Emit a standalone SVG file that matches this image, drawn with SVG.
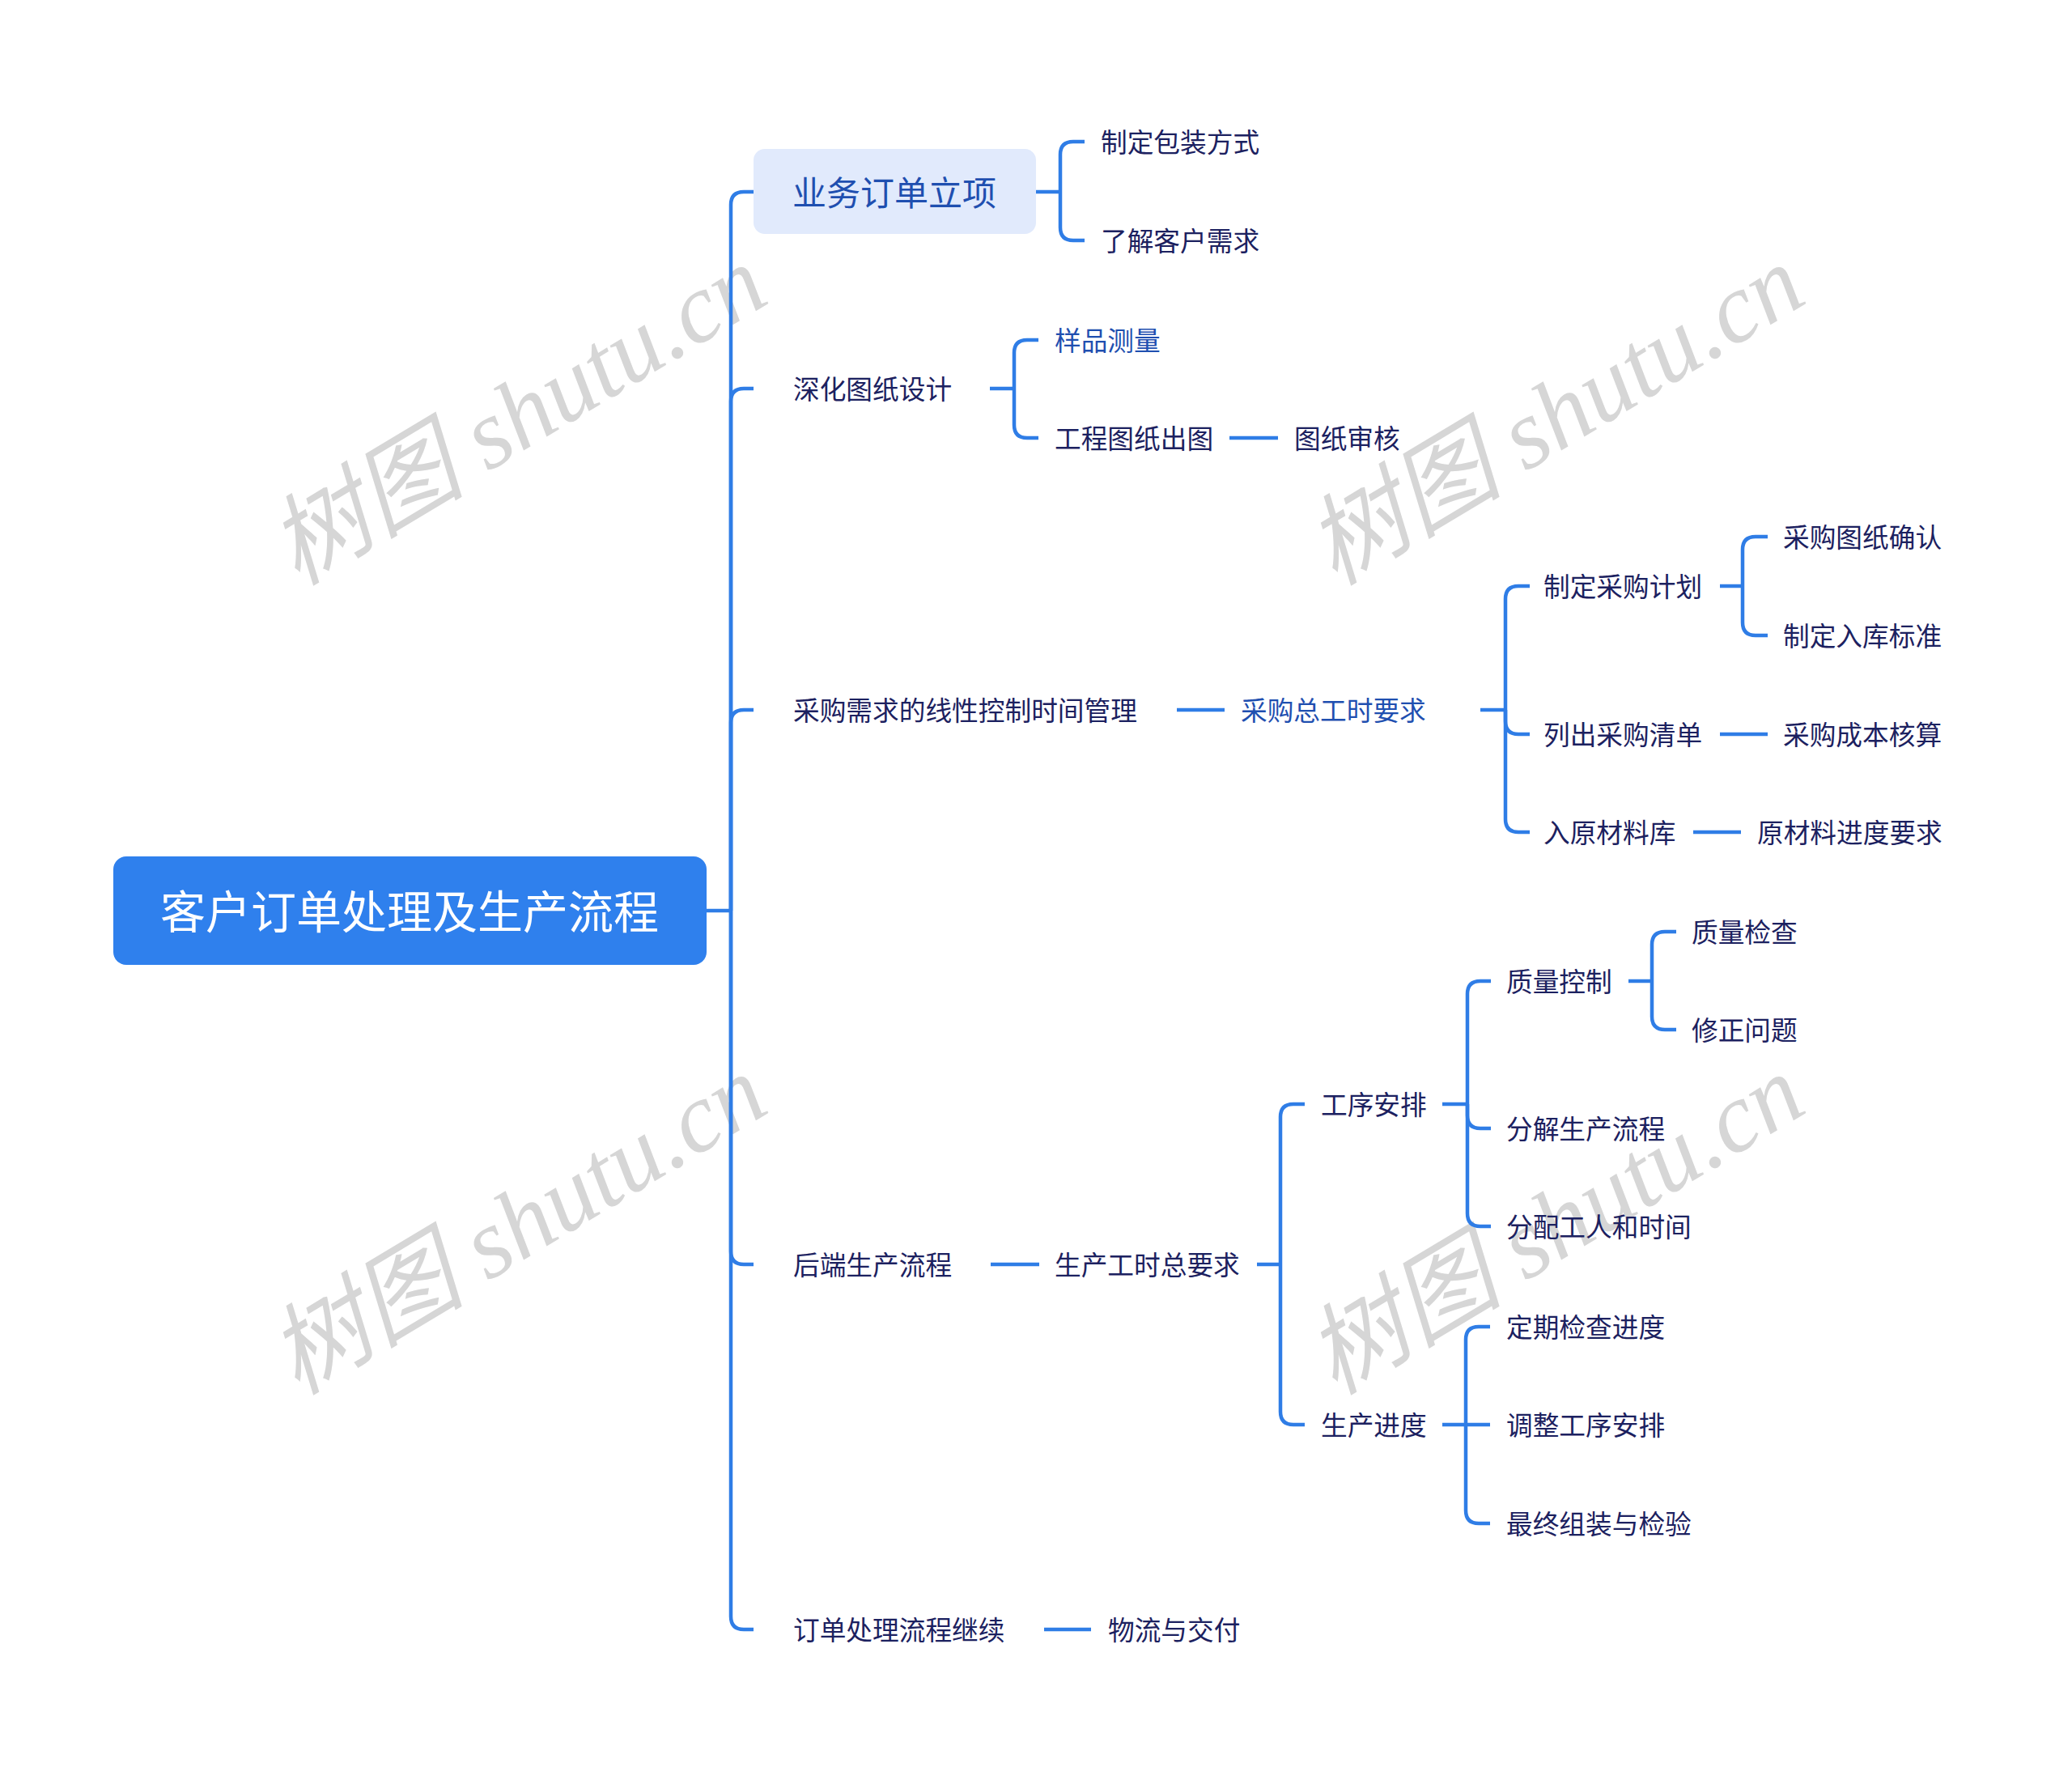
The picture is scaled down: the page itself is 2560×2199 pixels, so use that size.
<svg xmlns="http://www.w3.org/2000/svg" width="2560" height="2199" viewBox="0 0 2560 2199">
<style>
.wm{font-family:"Liberation Serif","Noto Sans CJK SC",serif;font-style:italic;font-size:122px;fill:#d6d6d6;text-anchor:middle}
.t{font-family:"Noto Sans CJK SC","Noto Sans",sans-serif;font-size:32.7px;fill:#1c2160;dominant-baseline:central}
.b{fill:#1f4fb0}
.c{fill:none;stroke:#2f7de6;stroke-width:4.5;stroke-linecap:butt;stroke-linejoin:round}
</style>
<rect width="2560" height="2199" fill="#ffffff"/>
<g id="watermarks">
<text class="wm" transform="translate(640,514) rotate(-31)" x="0" y="40">树图 shutu.cn</text>
<text class="wm" transform="translate(1922,514) rotate(-31)" x="0" y="40">树图 shutu.cn</text>
<text class="wm" transform="translate(640,1514) rotate(-31)" x="0" y="40">树图 shutu.cn</text>
<text class="wm" transform="translate(1922,1514) rotate(-31)" x="0" y="40">树图 shutu.cn</text>
</g>
<g id="connectors">
<path class="c" d="M873,1125 H903"/>
<path class="c" d="M903,1125 V253 Q903,237 919,237 H931"/>
<path class="c" d="M903,1125 V496 Q903,480 919,480 H931"/>
<path class="c" d="M903,1125 V893 Q903,877 919,877 H931"/>
<path class="c" d="M903,1125 V1546 Q903,1562 919,1562 H931"/>
<path class="c" d="M903,1125 V1997 Q903,2013 919,2013 H931"/>
<path class="c" d="M1280,237 H1310"/>
<path class="c" d="M1310,237 V191 Q1310,175 1326,175 H1340"/>
<path class="c" d="M1310,237 V281 Q1310,297 1326,297 H1340"/>
<path class="c" d="M1223,480 H1253"/>
<path class="c" d="M1253,480 V436 Q1253,420 1269,420 H1283"/>
<path class="c" d="M1253,480 V525 Q1253,541 1269,541 H1283"/>
<path class="c" d="M1519,541 H1579"/>
<path class="c" d="M1454,877 H1513"/>
<path class="c" d="M1829,877 H1860"/>
<path class="c" d="M1860,877 V740 Q1860,724 1876,724 H1890"/>
<path class="c" d="M1860,877 V891 Q1860,907 1876,907 H1890"/>
<path class="c" d="M1860,877 V1012 Q1860,1028 1876,1028 H1890"/>
<path class="c" d="M2125,724 H2153"/>
<path class="c" d="M2153,724 V679 Q2153,663 2169,663 H2184"/>
<path class="c" d="M2153,724 V769 Q2153,785 2169,785 H2184"/>
<path class="c" d="M2125,907 H2184"/>
<path class="c" d="M2092,1028 H2151"/>
<path class="c" d="M1224,1562 H1284"/>
<path class="c" d="M1553,1562 H1582"/>
<path class="c" d="M1582,1562 V1380 Q1582,1364 1598,1364 H1612"/>
<path class="c" d="M1582,1562 V1744 Q1582,1760 1598,1760 H1612"/>
<path class="c" d="M1782,1364 H1813"/>
<path class="c" d="M1813,1364 V1228 Q1813,1212 1829,1212 H1842"/>
<path class="c" d="M1813,1364 V1378 Q1813,1394 1829,1394 H1842"/>
<path class="c" d="M1813,1364 V1499 Q1813,1515 1829,1515 H1842"/>
<path class="c" d="M2012,1212 H2041"/>
<path class="c" d="M2041,1212 V1167 Q2041,1151 2057,1151 H2071"/>
<path class="c" d="M2041,1212 V1256 Q2041,1272 2057,1272 H2071"/>
<path class="c" d="M1782,1760 H1841"/>
<path class="c" d="M1811,1760 V1655 Q1811,1639 1827,1639 H1841"/>
<path class="c" d="M1811,1760 V1866 Q1811,1882 1827,1882 H1841"/>
<path class="c" d="M1290,2013 H1348"/>
</g>
<g id="root">
<rect x="140" y="1058" width="733" height="134" rx="16" fill="#2f80ed"/>
<text class="t" x="506" y="1122" style="font-size:56px;fill:#ffffff;text-anchor:middle">客户订单处理及生产流程</text>
</g>
<g id="n1">
<rect x="931" y="184" width="349" height="105" rx="14" fill="#e1eafc"/>
<text class="t b" x="1105" y="235" style="font-size:42px;text-anchor:middle">业务订单立项</text>
</g>
<g id="n1-1"><text class="t" x="1360" y="173">制定包装方式</text></g>
<g id="n1-2"><text class="t" x="1360" y="295">了解客户需求</text></g>
<g id="n2"><text class="t" x="980" y="478">深化图纸设计</text></g>
<g id="n2-1"><text class="t b" x="1303" y="418">样品测量</text></g>
<g id="n2-2"><text class="t" x="1303" y="539">工程图纸出图</text></g>
<g id="n2-2-1"><text class="t" x="1599" y="539">图纸审核</text></g>
<g id="n3"><text class="t" x="980" y="875">采购需求的线性控制时间管理</text></g>
<g id="n3-1"><text class="t b" x="1533" y="875">采购总工时要求</text></g>
<g id="n3-1-1"><text class="t" x="1907" y="722">制定采购计划</text></g>
<g id="n3-1-1-1"><text class="t" x="2203" y="661">采购图纸确认</text></g>
<g id="n3-1-1-2"><text class="t" x="2203" y="783">制定入库标准</text></g>
<g id="n3-1-2"><text class="t" x="1907" y="905">列出采购清单</text></g>
<g id="n3-1-2-1"><text class="t" x="2203" y="905">采购成本核算</text></g>
<g id="n3-1-3"><text class="t" x="1907" y="1026">入原材料库</text></g>
<g id="n3-1-3-1"><text class="t" x="2171" y="1026">原材料进度要求</text></g>
<g id="n4"><text class="t" x="980" y="1560">后端生产流程</text></g>
<g id="n4-1"><text class="t" x="1303" y="1560">生产工时总要求</text></g>
<g id="n4-1-1"><text class="t" x="1632" y="1362">工序安排</text></g>
<g id="n4-1-1-1"><text class="t" x="1861" y="1210">质量控制</text></g>
<g id="n4-1-1-1-1"><text class="t" x="2090" y="1149">质量检查</text></g>
<g id="n4-1-1-1-2"><text class="t" x="2090" y="1270">修正问题</text></g>
<g id="n4-1-1-2"><text class="t" x="1861" y="1392">分解生产流程</text></g>
<g id="n4-1-1-3"><text class="t" x="1861" y="1513">分配工人和时间</text></g>
<g id="n4-1-2"><text class="t" x="1632" y="1758">生产进度</text></g>
<g id="n4-1-2-1"><text class="t" x="1861" y="1637">定期检查进度</text></g>
<g id="n4-1-2-2"><text class="t" x="1861" y="1758">调整工序安排</text></g>
<g id="n4-1-2-3"><text class="t" x="1861" y="1880">最终组装与检验</text></g>
<g id="n5"><text class="t" x="980" y="2011">订单处理流程继续</text></g>
<g id="n5-1"><text class="t" x="1369" y="2011">物流与交付</text></g>
</svg>
